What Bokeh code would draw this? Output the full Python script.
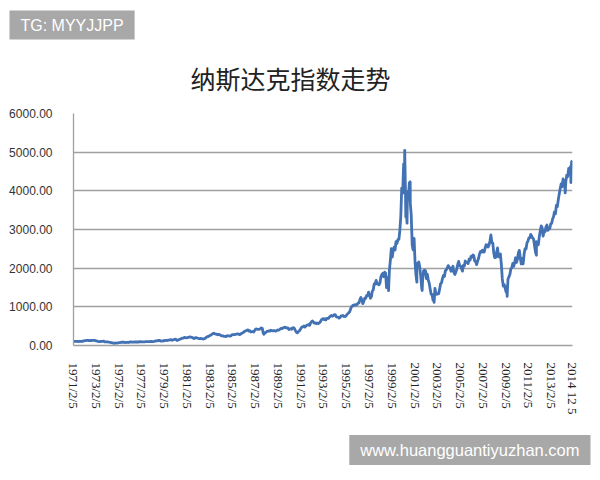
import pandas as pd
from bokeh.plotting import figure
from bokeh.models import Range1d, FixedTicker, Title
from bokeh.embed import file_html
from bokeh.resources import INLINE

title_text = "纳斯达克指数走势"
watermark_top = "TG: MYYJJPP"
watermark_bottom = "www.huangguantiyuzhan.com"

monthly_values = [
    100, 104, 108, 105, 106, 103, 108, 108, 105, 104, 114,
    120, 125, 127, 130, 131, 129, 127, 131, 129, 130, 133, 134,
    126, 118, 114, 107, 101, 100, 108, 104, 110, 110, 93, 92,
    92, 92, 89, 84, 78, 76, 70, 64, 56, 65, 62, 60,
    70, 74, 76, 80, 84, 88, 84, 80, 76, 80, 82, 78,
    88, 92, 91, 89, 88, 91, 92, 90, 92, 90, 91, 98,
    97, 95, 95, 96, 96, 100, 101, 100, 101, 98, 103, 105,
    101, 100, 105, 112, 118, 117, 124, 130, 129, 112, 115, 118,
    126, 122, 132, 133, 129, 137, 140, 150, 149, 135, 143, 151,
    162, 158, 131, 140, 150, 157, 172, 182, 188, 193, 208, 202,
    198, 202, 211, 216, 221, 215, 210, 196, 180, 195, 201, 196,
    188, 180, 175, 183, 178, 171, 167, 177, 187, 212, 230, 232,
    248, 261, 270, 293, 309, 318, 303, 292, 296, 277, 286, 279,
    268, 250, 251, 246, 234, 239, 230, 254, 249, 247, 242, 247,
    278, 284, 279, 281, 291, 296, 301, 297, 280, 292, 313, 325,
    335, 359, 375, 383, 392, 405, 371, 381, 350, 361, 360, 349,
    392, 424, 430, 417, 416, 424, 434, 455, 444, 323, 305, 330,
    344, 366, 374, 379, 370, 394, 387, 376, 387, 382, 372, 381,
    401, 399, 406, 428, 446, 435, 453, 469, 472, 455, 456, 454,
    415, 425, 435, 420, 458, 462, 438, 381, 344, 329, 359, 373,
    414, 453, 482, 484, 506, 475, 502, 525, 527, 542, 523, 586,
    620, 633, 603, 578, 585, 563, 581, 563, 583, 605, 652, 677,
    696, 671, 690, 661, 700, 704, 705, 742, 763, 779, 754, 777,
    800, 793, 743, 733, 735, 706, 722, 765, 764, 777, 750, 752,
    755, 793, 817, 843, 865, 933, 1001, 1020, 1044, 1036, 1059, 1052,
    1060, 1100, 1101, 1191, 1243, 1185, 1081, 1141, 1226, 1222, 1293, 1291,
    1379, 1309, 1222, 1261, 1400, 1442, 1594, 1587, 1685, 1594, 1601, 1570,
    1619, 1771, 1835, 1868, 1779, 1895, 1872, 1499, 1694, 1771, 1950, 2193,
    2505, 2288, 2461, 2542, 2470, 2686, 2638, 2739, 2746, 2966, 3336, 4069,
    3940, 4697, 4573, 3861, 3401, 3966, 3767, 4206, 3673, 3370, 2598, 2471,
    2773, 2152, 1840, 2116, 2110, 2161, 2027, 1805, 1499, 1690, 1931, 1950,
    1934, 1731, 1845, 1688, 1616, 1463, 1328, 1315, 1172, 1330, 1479, 1336,
    1321, 1338, 1341, 1464, 1596, 1623, 1735, 1810, 1787, 1932, 1960, 2003,
    2066, 2030, 1994, 1920, 1987, 2048, 1887, 1838, 1897, 1975, 2097, 2175,
    2062, 2052, 1999, 1922, 2068, 2057, 2185, 2152, 2151, 2120, 2233, 2205,
    2306, 2281, 2340, 2323, 2179, 2172, 2091, 2184, 2258, 2367, 2432, 2415,
    2464, 2416, 2422, 2525, 2605, 2603, 2546, 2596, 2702, 2859, 2661, 2652,
    2390, 2271, 2279, 2413, 2523, 2293, 2326, 2368, 2092, 1721, 1536, 1577,
    1476, 1378, 1529, 1717, 1774, 1835, 1979, 2009, 2122, 2045, 2145, 2269,
    2147, 2238, 2398, 2461, 2257, 2109, 2255, 2114, 2369, 2507, 2498, 2653,
    2700, 2782, 2781, 2874, 2835, 2774, 2756, 2580, 2415, 2684, 2620, 2605,
    2814, 2967, 3092, 3046, 2827, 2935, 2940, 3067, 3116, 2977, 3010, 3020,
    3142, 3160, 3268, 3329, 3456, 3403, 3626, 3590, 3771, 3920, 4060, 4177,
    4104, 4308, 4199, 4115, 4243, 4408, 4370, 4580, 4493, 4631, 4750, 4780,
]

extreme_dates = ["1987-10-26", "1998-10-08", "2000-03-10", "2000-04-14", "2000-05-24",
                 "2000-09-01", "2001-04-04", "2001-09-21", "2002-10-09", "2009-03-09",
                 "2011-10-04", "2014-04-15", "2014-10-15"]
extreme_values = [292, 1419, 5048, 3321, 3164, 4234, 1638, 1423, 1114, 1268, 2335, 3946, 4213]

tick_dates = ["1971-02-05", "1973-02-05", "1975-02-05", "1977-02-05", "1979-02-05",
              "1981-02-05", "1983-02-05", "1985-02-05", "1987-02-05", "1989-02-05",
              "1991-02-05", "1993-02-05", "1995-02-05", "1997-02-05", "1999-02-05",
              "2001-02-05", "2003-02-05", "2005-02-05", "2007-02-05", "2009-02-05",
              "2011-02-05", "2013-02-05", "2014-12-05"]
tick_labels = ["1971/2/5", "1973/2/5", "1975/2/5", "1977/2/5", "1979/2/5",
               "1981/2/5", "1983/2/5", "1985/2/5", "1987/2/5", "1989/2/5",
               "1991/2/5", "1993/2/5", "1995/2/5", "1997/2/5", "1999/2/5",
               "2001/2/5", "2003/2/5", "2005/2/5", "2007/2/5", "2009/2/5",
               "2011/2/5", "2013/2/5", "2014 12 5"]
y_ticks = [0, 1000, 2000, 3000, 4000, 5000, 6000]

if len(monthly_values) != 527:
    raise ValueError("monthly count %d" % len(monthly_values))

epoch = pd.Timestamp("1970-01-01")


def to_day(d):
    return int((pd.Timestamp(d) - epoch).days)


month_dates = pd.date_range(start="1971-02-01", periods=len(monthly_values), freq="MS") + pd.Timedelta(days=4)
df = pd.DataFrame({"x": [to_day(d) for d in month_dates], "y": monthly_values})
ex = pd.DataFrame({"x": [to_day(d) for d in extreme_dates], "y": extreme_values})
df = pd.concat([df, ex]).sort_values("x").reset_index(drop=True)

tick_x = [to_day(d) for d in tick_dates]

# layout (page pixels)
W, H = 592, 480
F_LEFT, F_RIGHT, F_TOP, F_BOTTOM = 73, 572, 113, 346
x0, x1 = tick_x[0], tick_x[-1]

p = figure(width=W, height=H, output_backend="svg", toolbar_location=None,
           x_range=Range1d(x0, x1), y_range=Range1d(0, 6000),
           min_border_left=F_LEFT, min_border_right=W - F_RIGHT,
           min_border_top=F_TOP, min_border_bottom=H - F_BOTTOM)
p.title = None
p.outline_line_color = None
p.background_fill_color = "white"
p.border_fill_color = "white"

p.line(df["x"], df["y"], line_color="#4271b4", line_width=2.8, line_join="round")

p.xaxis.ticker = FixedTicker(ticks=tick_x)
p.xaxis.major_label_overrides = {t: l for t, l in zip(tick_x, tick_labels)}
p.xaxis.major_label_orientation = "vertical"
p.xaxis.major_label_text_font = "Liberation Serif"
p.xaxis.major_label_text_font_size = "13px"
p.xaxis.major_label_text_color = "#222222"
p.xaxis.major_label_standoff = 11
p.xaxis.axis_line_color = "#a0a0a0"
p.xaxis.axis_line_width = 1.3
p.xaxis.major_tick_line_color = None
p.xaxis.minor_tick_line_color = None
p.xgrid.grid_line_color = None

p.yaxis.ticker = FixedTicker(ticks=y_ticks)
p.yaxis.major_label_overrides = {v: "%.2f" % v for v in y_ticks}
p.yaxis.major_label_text_font = "Liberation Sans"
p.yaxis.major_label_text_font_size = "12px"
p.yaxis.major_label_text_color = "#333333"
p.yaxis.major_label_standoff = 15
p.yaxis.axis_line_color = "#a0a0a0"
p.yaxis.axis_line_width = 1.3
p.yaxis.major_tick_line_color = None
p.yaxis.minor_tick_line_color = None
p.ygrid.grid_line_color = "#a0a0a0"
p.ygrid.grid_line_width = 1.3

chart_title = Title(text=title_text, align="left", offset=117, standoff=32,
                    vertical_align="top",
                    text_font="Noto Sans CJK SC", text_font_size="25px",
                    text_font_style="normal", text_color="#222222")
top_mark = Title(text=watermark_top, align="left", offset=-64, standoff=8,
                 vertical_align="bottom",
                 text_font="Liberation Sans", text_font_size="16px", text_font_style="normal",
                 text_color="white", background_fill_color="#a8a8a8", padding=(11, 6))
bottom_mark = Title(text=watermark_bottom, align="right", offset=-18, standoff=31,
                    vertical_align="bottom",
                    text_font="Liberation Sans", text_font_size="16.5px", text_font_style="normal",
                    text_color="white", background_fill_color="#a8a8a8", padding=(11, 6))
p.add_layout(chart_title, "above")
p.add_layout(top_mark, "above")
p.add_layout(bottom_mark, "below")

open("out.html", "w").write(file_html(p, INLINE))
